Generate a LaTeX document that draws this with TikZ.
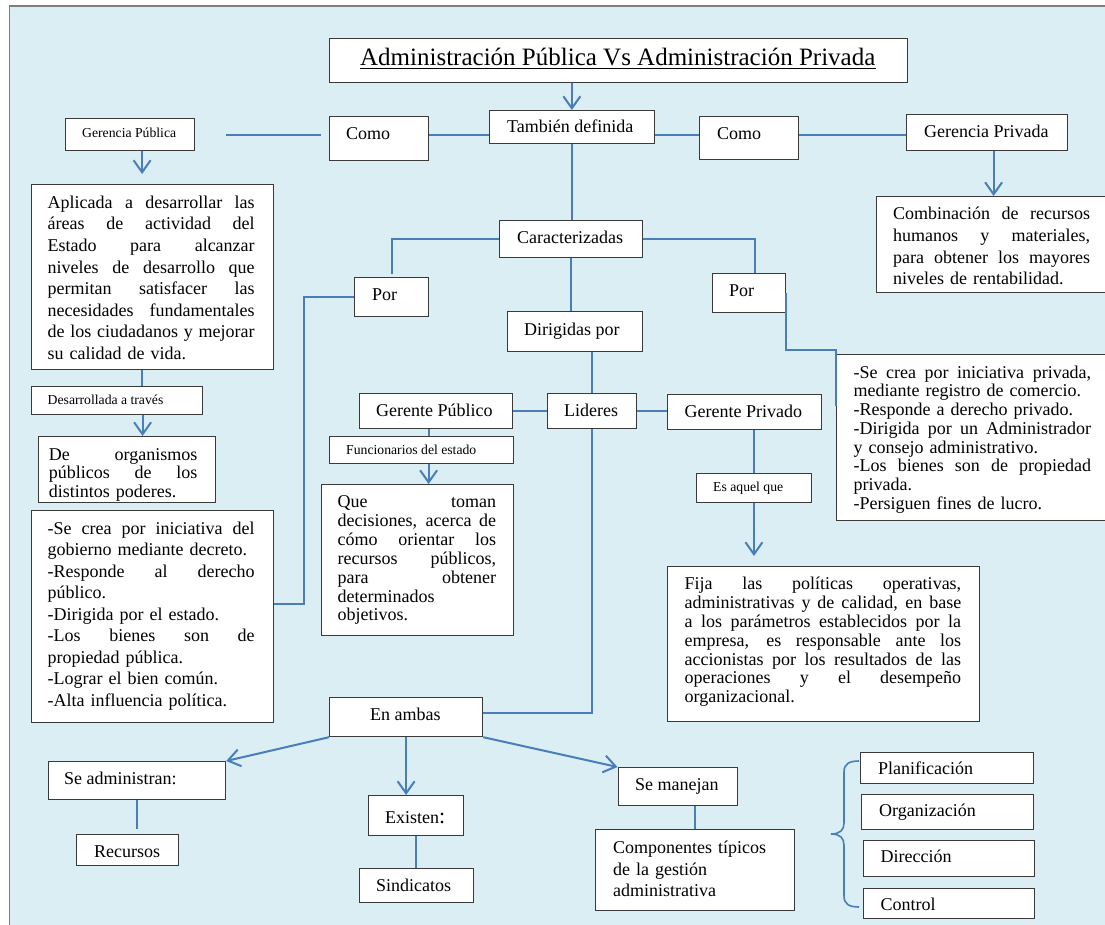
\documentclass[tikz,border=0pt]{standalone}
\usepackage{fontspec}
\setmainfont{Liberation Serif}
\usetikzlibrary{arrows.meta,calc}
\definecolor{bgblue}{HTML}{DAEEF3}
\definecolor{link}{HTML}{4A7EBB}
\definecolor{edge}{HTML}{3A3A3A}
\definecolor{frame}{HTML}{7F7F7F}

% one justified line of a paragraph: spaces stretch so the line fills \jw
\newdimen\jw
\newcommand\J[1]{\leavevmode\hbox to \jw{\spaceskip=0.25em plus 1fil\relax #1}}
\newcommand\fs[2]{\fontsize{#1}{#2}\selectfont}
% paragraph font: size, line distance, paragraph width
\newcommand\pf[3]{\fs{#1}{#2}\global\jw=#3\relax}

\tikzset{
  box/.style={draw=edge, line width=1.2pt, fill=white, inner sep=0pt, anchor=north west},
  conn/.style={draw=link, line width=2pt},
  arr/.style={conn, -{Straight Barb[length=12pt, width=17pt]}},
  big/.style={inner sep=0pt, anchor=west, font=\fs{18}{21.6}, text height=12.6pt, text depth=4.3pt},
  small/.style={inner sep=0pt, anchor=west, font=\fs{13.7}{16}, text height=9.6pt, text depth=3.3pt},
  para/.style={inner sep=0pt, anchor=west, align=left, text width=#1},
}
% \mkbox{name}{left}{top}{right}{bottom}
\newcommand\mkbox[5]{\node[box, minimum width={(#4-#2)*1pt}, minimum height={(#5-#3)*1pt}] (#1) at (#2,#3) {};}

\begin{document}
\begin{tikzpicture}[x=1pt,y=-1pt]
\useasboundingbox (0,0) rectangle (1105,925);
\fill[bgblue] (9.6,6) rectangle (1105,925);
\draw[frame, line width=1.5pt] (9.6,925) -- (9.6,6) -- (1105,6);

% ---------- boxes ----------
\mkbox{title}{329}{38}{906.5}{82}
\mkbox{gpub}{65}{118}{194}{150}
\mkbox{comoL}{329}{116}{428}{160}
\mkbox{tamb}{489}{110}{653.5}{143}
\mkbox{comoR}{699}{116}{798}{159}
\mkbox{gpriv}{906}{114}{1067}{150}
\mkbox{comb}{876}{196}{1115}{292}
\mkbox{carac}{499}{220}{642}{257}
\mkbox{porL}{354}{277}{428}{316}
\mkbox{porR}{712}{273}{785}{312}
\mkbox{dirig}{507}{311}{642}{351}
\mkbox{aplic}{31}{184}{272.5}{369}
\mkbox{desar}{31}{386}{202}{414}
\mkbox{deorg}{38}{436}{215}{502}
\mkbox{secreaG}{31}{510}{272.5}{722}
\mkbox{secreaP}{836}{354}{1115}{520}
\mkbox{gpub2}{358.6}{393}{512}{428}
\mkbox{lid}{547}{393}{636}{428}
\mkbox{gpriv2}{667}{394}{821}{429}
\mkbox{func}{329}{436}{513}{463}
\mkbox{queT}{321}{484}{513}{635}
\mkbox{esaq}{695.7}{473}{811}{502}
\mkbox{fija}{667}{566}{978.6}{721}
\mkbox{amb}{329}{697}{482}{736}
\mkbox{seadm}{47.5}{761}{225}{799}
\mkbox{recur}{76}{834}{178}{865}
\mkbox{exist}{367.5}{795}{463}{835}
\mkbox{sind}{358.6}{868}{473}{902}
\mkbox{seman}{617.5}{767}{737}{805}
\mkbox{comp}{595}{829}{794}{910}
\mkbox{plan}{860}{752}{1032.6}{783}
\mkbox{org}{861}{794}{1033}{829}
\mkbox{dirc}{863}{840}{1034}{876}
\mkbox{ctrl}{863}{888}{1034}{918}

% ---------- title ----------
\node[inner sep=0pt, anchor=base, font=\fs{25}{30}] (titlet) at (617.75,66) {Administración Pública Vs Administración Privada};
\draw[line width=1.2pt] ([yshift=-2.3pt]titlet.base west) -- ([yshift=-2.3pt]titlet.base east);

% ---------- single-line labels ----------
\node[small] (gpub-t) at (82,134) {Gerencia Pública};
\node[big] (comoL-t) at (346,135) {Como};
\node[big] (tamb-t) at (507,128) {También definida};
\node[big] (comoR-t) at (717,135) {Como};
\node[big] (gpriv-t) at (924,133) {Gerencia Privada};
\node[big] (carac-t) at (517,239) {Caracterizadas};
\node[big] (porL-t) at (372,296) {Por};
\node[big] (porR-t) at (729,292) {Por};
\node[big] (dirig-t) at (524,331) {Dirigidas por};
\node[big] (lid-t) at (564,412) {Lideres};
\node[big] (gpriv2-t) at (684.5,413) {Gerente Privado};
\node[big] (gpub2-t) at (376,412) {Gerente Público};
\node[small] (func-t) at (346,451) {Funcionarios del estado};
\node[small] (desar-t) at (47.5,401) {Desarrollada a través};
\node[small] (esaq-t) at (713,488) {Es aquel que};
\node[big] (amb-t) at (370,716) {En ambas};
\node[big] (seadm-t) at (64,780) {Se administran:};
\node[big] (recur-t) at (94,853) {Recursos};
\node[big] (exist-t) at (385,819) {Existen{\fs{22}{22}:}};
\node[big] (sind-t) at (376,887) {Sindicatos};
\node[big] (seman-t) at (635,786) {Se manejan};
\node[big] (plan-t) at (878,770) {Planificación};
\node[big] (org-t) at (879,812) {Organización};
\node[big] (dirc-t) at (880.5,858) {Dirección};
\node[big] (ctrl-t) at (880.5,906) {Control};

% ---------- paragraphs ----------
\node[para=207pt, font=\pf{18}{21.6}{207pt}] (aplic-t) at (47.5,279.5) {\strut\J{Aplicada a desarrollar las}\\
\J{áreas de actividad del}\\
\J{Estado para alcanzar}\\
\J{niveles de desarrollo que}\\
\J{permitan satisfacer las}\\
\J{necesidades fundamentales}\\
\J{de los ciudadanos y mejorar}\\
su calidad de vida.\strut};

\node[para=148.5pt, font=\pf{18}{18.5}{148.5pt}] (deorg-t) at (48.6,475) {\strut\J{De organismos}\\
\J{públicos de los}\\
distintos poderes.\strut};

\node[para=207pt, font=\pf{18}{21.5}{207pt}] (secreaG-t) at (47.5,616) {\strut\J{-Se crea por iniciativa del}\\
gobierno mediante decreto.\\
\J{-Responde al derecho}\\
público.\\
-Dirigida por el estado.\\
\J{-Los bienes son de}\\
propiedad pública.\\
-Lograr el bien común.\\
-Alta influencia política.\strut};

\node[para=158.5pt, font=\pf{18}{18.9}{158.5pt}] (queT-t) at (337.5,560.5) {\strut\J{Que toman}\\
\J{decisiones, acerca de}\\
\J{cómo orientar los}\\
\J{recursos públicos,}\\
\J{para obtener}\\
determinados\\
objetivos.\strut};

\node[para=197pt, font=\pf{18}{21.6}{197pt}] (comb-t) at (893,248) {\strut\J{Combinación de recursos}\\
\J{humanos y materiales,}\\
\J{para obtener los mayores}\\
niveles de rentabilidad.\strut};

\node[para=237.5pt, font=\pf{18}{18.7}{237.5pt}] (secreaP-t) at (853.5,440) {\strut\J{-Se crea por iniciativa privada,}\\
mediante registro de comercio.\\
-Responde a derecho privado.\\
\J{-Dirigida por un Administrador}\\
y consejo administrativo.\\
\J{-Los bienes son de propiedad}\\
privada.\\
-Persiguen fines de lucro.\strut};

\node[para=276.5pt, font=\pf{18}{18.8}{276.5pt}] (fija-t) at (684.5,642.5) {\strut\J{Fija las políticas operativas,}\\
\J{administrativas y de calidad, en base}\\
\J{a los parámetros establecidos por la}\\
\J{empresa, es responsable ante los}\\
\J{accionistas por los resultados de las}\\
\J{operaciones y el desempeño}\\
organizacional.\strut};

\node[para=175pt, font=\fs{18}{21.5}] (comp-t) at (613,871) {\strut Componentes típicos\\
de la gestión\\
administrativa\strut};

% ---------- connectors ----------
\draw[arr] (title.south -| tamb.north) -- (tamb.north);
\draw[conn] ([xshift=31pt]gpub.east) -- ([xshift=-8pt]comoL.west |- gpub.east);
\draw[conn] ([yshift=4pt]comoL.east) -- ([yshift=4pt]comoL.east -| tamb.west);
\draw[conn] ([yshift=3.5pt]comoR.west -| tamb.east) -- ([yshift=3.5pt]comoR.west);
\draw[conn] ([yshift=3.5pt]comoR.east) -- ([yshift=3.5pt]comoR.east -| gpriv.west);
\draw[arr] ([xshift=12pt]gpub.south) -- ($([xshift=12pt]gpub.south |- aplic.north)+(0,-10)$);
\draw[arr] ([xshift=6.5pt]gpriv.south) -- ([xshift=6.5pt]gpriv.south |- comb.north);
\draw[conn] (tamb.south) -- (tamb.south |- carac.north);
\draw[conn] (carac.west) -| ([yshift=3pt]porL.north);
\draw[conn] (carac.east) -| ([xshift=5.5pt]porR.north);
\draw[conn] (porL.west) -- ([xshift=-50pt]porL.west) |- ([yshift=13pt]secreaG.east);
\draw[conn] (porR.east) -- ++(0,57) -| ([yshift=-52pt]secreaP.north west);
\draw[conn] (carac.south) -- (carac.south |- dirig.north);
\draw[conn] (lid.north |- dirig.south) -- (lid.north);
\draw[conn] (gpub2.east) -- (lid.west);
\draw[conn] (lid.east) -- (gpriv2.west |- lid.east);
\draw[conn] (lid.south) |- ([yshift=4.5pt]amb.east);
\draw[conn] ([xshift=-7pt]gpub2.south) -- ([xshift=-7pt]gpub2.south |- func.north);
\draw[arr] ([xshift=7pt]func.south) -- ([xshift=7pt]func.south |- queT.north);
\draw[conn] ([xshift=-10.75pt]aplic.south) -- ([xshift=-10.75pt]aplic.south |- desar.north);
\draw[arr] ([xshift=25.5pt]desar.south) -- ([xshift=25.5pt]desar.south |- deorg.north);
\draw[conn] (esaq.north |- gpriv2.south) -- (esaq.north);
\draw[arr] (esaq.south) -- ($(esaq.south |- fija.north)+(0,-10)$);
\draw[arr] (amb.south west) -- (seadm.north east);
\draw[arr] (amb.south) -- (amb.south |- exist.north);
\draw[arr] (amb.south east) -- (seman.north west);
\draw[conn] (seadm.south) -- ($(seadm.south |- recur.north)+(0,-5)$);
\draw[conn] (exist.south) -- (exist.south |- sind.north);
\draw[conn] (comp.north |- seman.south) -- (comp.north);

% ---------- brace grouping the four management functions ----------
\draw[link, line width=1.6pt] (859,761) .. controls (849,761) and (844,764) .. (844,772)
  -- (844,823) .. controls (844,830) and (840,834) .. (831,834)
  .. controls (840,834) and (844,838) .. (844,845)
  -- (844,896) .. controls (844,904) and (849,907) .. (859,907);
\end{tikzpicture}
\end{document}
